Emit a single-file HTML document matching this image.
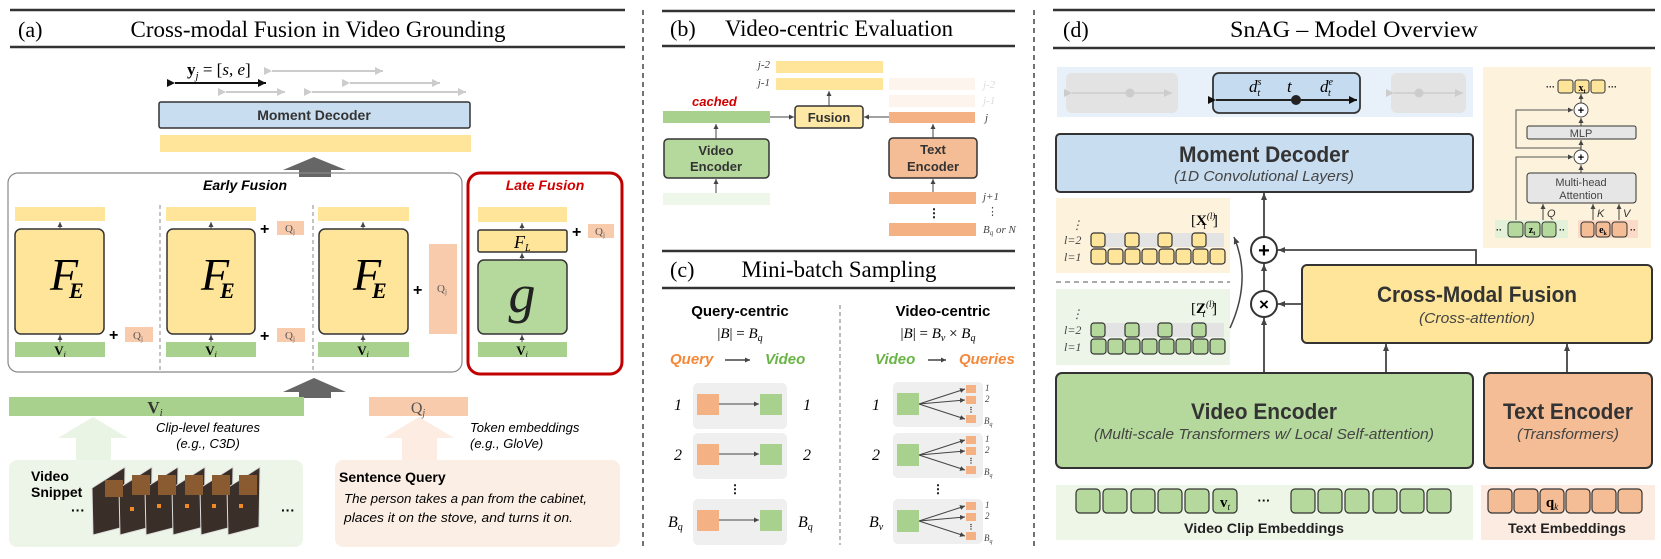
<!DOCTYPE html>
<html><head><meta charset="utf-8"><style>
html,body{margin:0;padding:0;background:#fff;}
svg{display:block;}
.s{font-family:"Liberation Sans",sans-serif;}
.r{font-family:"Liberation Serif",serif;}
</style></head><body>
<svg width="1661" height="559" viewBox="0 0 1661 559" xmlns="http://www.w3.org/2000/svg">
<defs>
<marker id="a" markerWidth="8" markerHeight="8" refX="7" refY="4" orient="auto" markerUnits="userSpaceOnUse"><path d="M0,1 L7,4 L0,7 z" fill="#444"/></marker>
<marker id="as" markerWidth="6" markerHeight="6" refX="5" refY="3" orient="auto" markerUnits="userSpaceOnUse"><path d="M0,0.5 L5,3 L0,5.5 z" fill="#444"/></marker>
<marker id="ab" markerWidth="10" markerHeight="10" refX="8" refY="5" orient="auto" markerUnits="userSpaceOnUse"><path d="M0,1 L8,5 L0,9 z" fill="#111"/></marker>
<marker id="ag" markerWidth="10" markerHeight="10" refX="8" refY="5" orient="auto" markerUnits="userSpaceOnUse"><path d="M0,1 L8,5 L0,9 z" fill="#ccc"/></marker>
</defs>

<!-- ============ (a) ============ -->
<line x1="10" y1="10" x2="625" y2="10" stroke="#333" stroke-width="2.5"/>
<line x1="10" y1="47" x2="625" y2="47" stroke="#333" stroke-width="2.5"/>
<text x="18" y="37" class="r" font-size="22">(a)</text>
<text x="318" y="37" class="r" font-size="23" text-anchor="middle" textLength="375" lengthAdjust="spacingAndGlyphs">Cross-modal Fusion in Video Grounding</text>

<text x="187" y="75" class="r" font-size="17"><tspan font-weight="bold">y</tspan><tspan font-size="11" font-style="italic" dy="4">j</tspan><tspan dy="-4"> = [</tspan><tspan font-style="italic">s</tspan>, <tspan font-style="italic">e</tspan>]</text>
<line x1="175" y1="83" x2="266" y2="83" stroke="#111" stroke-width="2" marker-end="url(#ab)" marker-start="url(#ab)"/>
<g stroke="#ccc" stroke-width="2">
<line x1="272" y1="71" x2="383" y2="71" marker-end="url(#ag)" marker-start="url(#ag)"/>
<line x1="350" y1="83" x2="440" y2="83" marker-end="url(#ag)" marker-start="url(#ag)"/>
<line x1="226" y1="92" x2="285" y2="92" marker-end="url(#ag)" marker-start="url(#ag)"/>
<line x1="312" y1="92" x2="466" y2="92" marker-end="url(#ag)" marker-start="url(#ag)"/>
</g>
<rect x="159" y="102" width="311" height="26" rx="2" fill="#c9ddf0" stroke="#333" stroke-width="1.5"/>
<text x="314" y="120" class="s" font-size="14" font-weight="bold" fill="#333" text-anchor="middle">Moment Decoder</text>
<rect x="160" y="135" width="311" height="17" fill="#fee599"/>
<path d="M283,170 L314,157 L346,170 L331,170 L331,177 L299,177 L299,170 z" fill="#666"/>

<!-- early fusion -->
<rect x="8" y="173" width="454" height="199" rx="10" fill="none" stroke="#888" stroke-width="1.2"/>
<text x="245" y="190" class="s" font-size="14" font-weight="bold" font-style="italic" text-anchor="middle">Early Fusion</text>
<line x1="160" y1="205" x2="160" y2="370" stroke="#888" stroke-dasharray="4,3"/>
<line x1="313" y1="205" x2="313" y2="370" stroke="#888" stroke-dasharray="4,3"/>
<g>
<rect x="15" y="207" width="90" height="14" fill="#fee599"/>
<rect x="15" y="229" width="89" height="105" rx="6" fill="#fee599" stroke="#333" stroke-width="1.5"/>
<rect x="15" y="342" width="90" height="15" fill="#a9d18e"/>
<text x="50" y="290" class="r" font-size="46" font-style="italic">F</text><text x="69" y="298" class="r" font-size="22" font-style="italic" font-weight="bold">E</text>
<text x="60" y="355" class="r" font-size="13" font-weight="bold" text-anchor="middle">V<tspan font-size="8" font-style="italic" font-weight="normal" dy="2">i</tspan></text>
<line x1="60" y1="342" x2="60" y2="335" stroke="#444" marker-end="url(#as)"/><line x1="60" y1="229" x2="60" y2="222" stroke="#444" marker-end="url(#as)"/>

<rect x="166" y="207" width="90" height="14" fill="#fee599"/>
<rect x="167" y="229" width="88" height="105" rx="6" fill="#fee599" stroke="#333" stroke-width="1.5"/>
<rect x="166" y="342" width="90" height="15" fill="#a9d18e"/>
<text x="201" y="290" class="r" font-size="46" font-style="italic">F</text><text x="220" y="298" class="r" font-size="22" font-style="italic" font-weight="bold">E</text>
<text x="211" y="355" class="r" font-size="13" font-weight="bold" text-anchor="middle">V<tspan font-size="8" font-style="italic" font-weight="normal" dy="2">i</tspan></text>
<line x1="211" y1="342" x2="211" y2="335" stroke="#444" marker-end="url(#as)"/><line x1="211" y1="229" x2="211" y2="222" stroke="#444" marker-end="url(#as)"/>

<rect x="318" y="207" width="91" height="14" fill="#fee599"/>
<rect x="319" y="229" width="89" height="105" rx="6" fill="#fee599" stroke="#333" stroke-width="1.5"/>
<rect x="318" y="342" width="91" height="15" fill="#a9d18e"/>
<text x="353" y="290" class="r" font-size="46" font-style="italic">F</text><text x="372" y="298" class="r" font-size="22" font-style="italic" font-weight="bold">E</text>
<text x="363" y="355" class="r" font-size="13" font-weight="bold" text-anchor="middle">V<tspan font-size="8" font-style="italic" font-weight="normal" dy="2">i</tspan></text>
<line x1="363" y1="342" x2="363" y2="335" stroke="#444" marker-end="url(#as)"/><line x1="363" y1="229" x2="363" y2="222" stroke="#444" marker-end="url(#as)"/>
</g>
<g class="s" font-size="16" font-weight="bold">
<text x="109" y="340">+</text><text x="260" y="234">+</text><text x="260" y="341">+</text><text x="413" y="295">+</text><text x="572" y="237">+</text>
</g>
<g fill="#f8cbad">
<rect x="125" y="327" width="28" height="15"/><rect x="277" y="221" width="27" height="14"/><rect x="277" y="328" width="28" height="14"/><rect x="429" y="244" width="28" height="90"/><rect x="588" y="224" width="26" height="14"/>
</g>
<g class="r" font-size="11" fill="#555">
<text x="133" y="339">Q<tspan font-size="7" dy="2">j</tspan></text><text x="285" y="232">Q<tspan font-size="7" dy="2">j</tspan></text><text x="285" y="339">Q<tspan font-size="7" dy="2">j</tspan></text><text x="437" y="292">Q<tspan font-size="7" dy="2">j</tspan></text><text x="595" y="235">Q<tspan font-size="7" dy="2">j</tspan></text>
</g>

<!-- late fusion -->
<rect x="468" y="173" width="154" height="201" rx="12" fill="none" stroke="#c00000" stroke-width="3"/>
<text x="545" y="190" class="s" font-size="14" font-weight="bold" font-style="italic" fill="#d00000" text-anchor="middle">Late Fusion</text>
<rect x="478" y="207" width="89" height="15" fill="#fee599"/>
<rect x="478" y="230" width="89" height="22" rx="2" fill="#fee599" stroke="#333" stroke-width="1.5"/>
<text x="514" y="248" class="r" font-size="18" font-style="italic">F<tspan font-size="10" dy="3">L</tspan></text>
<rect x="478" y="260" width="89" height="74" rx="6" fill="#b5d99c" stroke="#333" stroke-width="1.5"/>
<text x="522" y="312" class="r" font-size="54" font-style="italic" text-anchor="middle" fill="#222">g</text>
<rect x="478" y="342" width="89" height="15" fill="#a9d18e"/>
<text x="522" y="355" class="r" font-size="13" font-weight="bold" text-anchor="middle">V<tspan font-size="8" font-style="italic" font-weight="normal" dy="2">i</tspan></text>
<line x1="522" y1="342" x2="522" y2="335" stroke="#444" marker-end="url(#as)"/><line x1="522" y1="260" x2="522" y2="253" stroke="#444" marker-end="url(#as)"/><line x1="522" y1="230" x2="522" y2="223" stroke="#444" marker-end="url(#as)"/>

<path d="M283,392 L314,378 L346,392 L331,392 L331,398 L299,398 L299,392 z" fill="#666"/>
<rect x="9" y="397" width="295" height="19" fill="#a9d18e"/>
<text x="155" y="413" class="r" font-size="17" font-weight="bold" text-anchor="middle" fill="#333">V<tspan font-size="11" font-style="italic" font-weight="normal" dy="3">i</tspan></text>
<rect x="369" y="397" width="99" height="19" fill="#f8cbad"/>
<text x="418" y="413" class="r" font-size="16" text-anchor="middle" fill="#555">Q<tspan font-size="10" font-style="italic" dy="3">j</tspan></text>
<path d="M58,438 L93,417 L128,438 L111,438 L111,462 L76,462 L76,438 z" fill="#eaf4e4"/>
<path d="M384,438 L419,417 L454,438 L437,438 L437,462 L402,462 L402,438 z" fill="#fcece2"/>
<text x="208" y="432" class="s" font-size="13" font-style="italic" text-anchor="middle">Clip-level features</text>
<text x="208" y="448" class="s" font-size="13" font-style="italic" text-anchor="middle">(e.g., C3D)</text>
<text x="470" y="432" class="s" font-size="13" font-style="italic">Token embeddings</text>
<text x="470" y="448" class="s" font-size="13" font-style="italic">(e.g., GloVe)</text>

<rect x="9" y="460" width="294" height="87" rx="8" fill="#edf5e8"/>
<text x="31" y="481" class="s" font-size="14" font-weight="bold">Video</text>
<text x="31" y="497" class="s" font-size="14" font-weight="bold">Snippet</text>
<text x="71" y="515" class="s" font-size="14" font-weight="bold">···</text>
<text x="281" y="515" class="s" font-size="14" font-weight="bold">···</text>
<g stroke="#ddd" stroke-width="1">
<polygon points="92,488 125,467 124,527 93,535" fill="#3a2f28"/>
<polygon points="119,488 152,467 151,527 120,535" fill="#3b3029"/>
<polygon points="145,488 178,467 177,527 146,535" fill="#3a2f28"/>
<polygon points="172,488 205,467 204,527 173,535" fill="#3b3029"/>
<polygon points="200,488 233,467 232,527 201,535" fill="#3a2f28"/>
<polygon points="227,488 260,467 259,527 228,535" fill="#3b3029"/>
</g>
<g fill="#8a5a30"><rect x="132" y="475" width="18" height="20"/><rect x="158" y="475" width="18" height="20"/><rect x="185" y="475" width="18" height="20"/><rect x="212" y="475" width="18" height="20"/><rect x="239" y="475" width="18" height="20"/><rect x="105" y="480" width="18" height="17"/></g>
<g fill="#f08a24"><rect x="130" y="507" width="4" height="4"/><rect x="157" y="504" width="4" height="4"/><rect x="185" y="504" width="4" height="4"/><rect x="212" y="504" width="4" height="4"/><rect x="239" y="504" width="4" height="4"/></g>

<rect x="335" y="460" width="285" height="87" rx="8" fill="#fbeee5"/>
<text x="339" y="482" class="s" font-size="14" font-weight="bold">Sentence Query</text>
<text x="344" y="503" class="s" font-size="12.5" font-style="italic" textLength="243" lengthAdjust="spacingAndGlyphs">The person takes a pan from the cabinet,</text>
<text x="344" y="522" class="s" font-size="12.5" font-style="italic" textLength="229" lengthAdjust="spacingAndGlyphs">places it on the stove, and turns it on.</text>

<line x1="643" y1="10" x2="643" y2="548" stroke="#444" stroke-width="1.5" stroke-dasharray="5,4"/>

<!-- ============ (b) ============ -->
<line x1="662" y1="11" x2="1015" y2="11" stroke="#333" stroke-width="2.5"/>
<line x1="662" y1="46" x2="1015" y2="46" stroke="#333" stroke-width="2.5"/>
<text x="670" y="36" class="r" font-size="22">(b)</text>
<text x="839" y="36" class="r" font-size="23" text-anchor="middle" textLength="228" lengthAdjust="spacingAndGlyphs">Video-centric Evaluation</text>
<text x="770" y="68" class="r" font-size="11" font-style="italic" text-anchor="end" fill="#444">j-2</text>
<text x="770" y="86" class="r" font-size="11" font-style="italic" text-anchor="end" fill="#444">j-1</text>
<rect x="776" y="61" width="107" height="12" fill="#fee599"/>
<rect x="776" y="78" width="107" height="12" fill="#fee599"/>
<rect x="889" y="78" width="86" height="12" fill="#fdf4ee"/>
<rect x="889" y="95" width="86" height="12" fill="#fdf4ee"/>
<rect x="889" y="112" width="86" height="11" fill="#f4b183"/>
<text x="983" y="88" class="r" font-size="11" font-style="italic" fill="#ddd">j-2</text>
<text x="983" y="104" class="r" font-size="11" font-style="italic" fill="#ddd">j-1</text>
<text x="985" y="121" class="r" font-size="11" font-style="italic" fill="#444">j</text>
<text x="692" y="106" class="s" font-size="13" font-weight="bold" font-style="italic" fill="#d00000">cached</text>
<rect x="663" y="111" width="107" height="12" fill="#a9d18e"/>
<line x1="770" y1="117" x2="794" y2="117" stroke="#444" marker-end="url(#as)"/>
<line x1="889" y1="117" x2="864" y2="117" stroke="#444" marker-end="url(#as)"/>
<rect x="795" y="106" width="68" height="22" rx="3" fill="#fee8a6" stroke="#333" stroke-width="1.5"/>
<text x="829" y="122" class="s" font-size="13" font-weight="bold" fill="#333" text-anchor="middle">Fusion</text>
<line x1="829" y1="106" x2="829" y2="91" stroke="#444" marker-end="url(#as)"/>
<rect x="664" y="139" width="105" height="39" rx="4" fill="#b5d99c" stroke="#333" stroke-width="1.5"/>
<text x="716" y="155" class="s" font-size="13" font-weight="bold" fill="#333" text-anchor="middle">Video</text>
<text x="716" y="171" class="s" font-size="13" font-weight="bold" fill="#333" text-anchor="middle">Encoder</text>
<line x1="716" y1="139" x2="716" y2="124" stroke="#444" marker-end="url(#as)"/>
<rect x="663" y="193" width="107" height="12" fill="#eff6ea"/>
<line x1="716" y1="193" x2="716" y2="179" stroke="#444" marker-end="url(#as)"/>
<rect x="889" y="138" width="88" height="40" rx="4" fill="#f4bd96" stroke="#333" stroke-width="1.5"/>
<text x="933" y="154" class="s" font-size="13" font-weight="bold" fill="#333" text-anchor="middle">Text</text>
<text x="933" y="171" class="s" font-size="13" font-weight="bold" fill="#333" text-anchor="middle">Encoder</text>
<line x1="933" y1="138" x2="933" y2="124" stroke="#444" marker-end="url(#as)"/>
<line x1="933" y1="192" x2="933" y2="179" stroke="#444" marker-end="url(#as)"/>
<rect x="889" y="192" width="87" height="12" fill="#f4b183"/>
<rect x="889" y="223" width="87" height="13" fill="#f4b183"/>
<text x="934" y="217" class="s" font-size="12" font-weight="bold" text-anchor="middle">⋮</text>
<text x="983" y="200" class="r" font-size="11" font-style="italic" fill="#444">j+1</text>
<text x="987" y="215" class="r" font-size="11" fill="#444">⋮</text>
<text x="983" y="233" class="r" font-size="11" font-style="italic" fill="#444">B<tspan font-size="7" dy="2">q</tspan><tspan dy="-2"> or N</tspan></text>

<!-- ============ (c) ============ -->
<line x1="662" y1="251" x2="1015" y2="251" stroke="#333" stroke-width="2.5"/>
<line x1="662" y1="288" x2="1015" y2="288" stroke="#333" stroke-width="2.5"/>
<text x="670" y="277" class="r" font-size="22">(c)</text>
<text x="839" y="277" class="r" font-size="23" text-anchor="middle" textLength="195" lengthAdjust="spacingAndGlyphs">Mini-batch Sampling</text>
<text x="740" y="316" class="s" font-size="15" font-weight="bold" text-anchor="middle">Query-centric</text>
<text x="740" y="338" class="r" font-size="15" text-anchor="middle">|<tspan font-style="italic">B</tspan>| = <tspan font-style="italic">B</tspan><tspan font-size="10" font-style="italic" dy="3">q</tspan></text>
<text x="670" y="364" class="s" font-size="15" font-weight="bold" font-style="italic" fill="#f4883a">Query</text>
<line x1="725" y1="360" x2="750" y2="360" stroke="#444" stroke-width="1.5" marker-end="url(#as)"/>
<text x="765" y="364" class="s" font-size="15" font-weight="bold" font-style="italic" fill="#6ab446">Video</text>
<line x1="840" y1="305" x2="840" y2="545" stroke="#777" stroke-dasharray="4,3"/>
<g>
<rect x="693" y="383" width="94" height="46" rx="5" fill="#efefef"/><rect x="697" y="394" width="22" height="21" fill="#f4b183"/><rect x="760" y="394" width="22" height="21" fill="#a9d18e"/><line x1="719" y1="404" x2="759" y2="404" stroke="#444" marker-end="url(#as)"/>
<rect x="693" y="433" width="94" height="46" rx="5" fill="#efefef"/><rect x="697" y="444" width="22" height="21" fill="#f4b183"/><rect x="760" y="444" width="22" height="21" fill="#a9d18e"/><line x1="719" y1="454" x2="759" y2="454" stroke="#444" marker-end="url(#as)"/>
<rect x="693" y="499" width="94" height="46" rx="5" fill="#efefef"/><rect x="697" y="510" width="22" height="21" fill="#f4b183"/><rect x="760" y="510" width="22" height="21" fill="#a9d18e"/><line x1="719" y1="520" x2="759" y2="520" stroke="#444" marker-end="url(#as)"/>
</g>
<g class="r" font-size="16" font-style="italic">
<text x="674" y="410">1</text><text x="803" y="410">1</text><text x="674" y="460">2</text><text x="803" y="460">2</text>
<text x="668" y="527">B<tspan font-size="10" dy="3">q</tspan></text><text x="798" y="527">B<tspan font-size="10" dy="3">q</tspan></text>
<text x="872" y="410">1</text><text x="872" y="460">2</text><text x="869" y="527">B<tspan font-size="10" dy="3">v</tspan></text>
</g>
<text x="735" y="493" class="s" font-size="12" font-weight="bold" text-anchor="middle">⋮</text>
<text x="938" y="493" class="s" font-size="12" font-weight="bold" text-anchor="middle">⋮</text>
<text x="943" y="316" class="s" font-size="15" font-weight="bold" text-anchor="middle">Video-centric</text>
<text x="938" y="338" class="r" font-size="15" text-anchor="middle">|<tspan font-style="italic">B</tspan>| = <tspan font-style="italic">B</tspan><tspan font-size="10" font-style="italic" dy="3">v</tspan><tspan dy="-3"> × </tspan><tspan font-style="italic">B</tspan><tspan font-size="10" font-style="italic" dy="3">q</tspan></text>
<text x="875" y="364" class="s" font-size="15" font-weight="bold" font-style="italic" fill="#6ab446">Video</text>
<line x1="928" y1="360" x2="946" y2="360" stroke="#444" stroke-width="1.5" marker-end="url(#as)"/>
<text x="959" y="364" class="s" font-size="15" font-weight="bold" font-style="italic" fill="#f4883a">Queries</text>
<g id="vr">
<rect x="893" y="382" width="90" height="45" rx="5" fill="#efefef"/>
<rect x="897" y="393" width="22" height="22" fill="#a9d18e"/>
<rect x="966" y="385" width="10" height="8" fill="#f4b183"/><rect x="966" y="396" width="10" height="8" fill="#f4b183"/><rect x="966" y="415" width="10" height="8" fill="#f4b183"/>
<g stroke="#444" stroke-width="1"><line x1="919" y1="404" x2="965" y2="389" marker-end="url(#as)"/><line x1="919" y1="404" x2="965" y2="400" marker-end="url(#as)"/><line x1="919" y1="404" x2="965" y2="419" marker-end="url(#as)"/></g>
<text x="971" y="412" class="s" font-size="7" font-weight="bold" text-anchor="middle">⋮</text>
<g class="r" font-size="9" font-style="italic" fill="#444"><text x="985" y="391">1</text><text x="985" y="402">2</text><text x="984" y="424">B<tspan font-size="6" dy="2">q</tspan></text></g>
</g>
<use href="#vr" y="51"/>
<use href="#vr" y="117"/>

<line x1="1034" y1="10" x2="1034" y2="548" stroke="#444" stroke-width="1.5" stroke-dasharray="5,4"/>

<!-- ============ (d) ============ -->
<line x1="1053" y1="10" x2="1655" y2="10" stroke="#333" stroke-width="2.5"/>
<line x1="1053" y1="48" x2="1655" y2="48" stroke="#333" stroke-width="2.5"/>
<text x="1063" y="37" class="r" font-size="22">(d)</text>
<text x="1354" y="37" class="r" font-size="23" text-anchor="middle" textLength="248" lengthAdjust="spacingAndGlyphs">SnAG  –  Model Overview</text>

<rect x="1057" y="67" width="416" height="50" fill="#e8f0f9"/>
<rect x="1066" y="73" width="112" height="40" rx="6" fill="#e3e3e3"/>
<line x1="1072" y1="93" x2="1172" y2="93" stroke="#ccc" stroke-width="1.5" marker-end="url(#ag)" marker-start="url(#ag)"/><circle cx="1130" cy="93" r="4.5" fill="#ccc"/>
<rect x="1391" y="73" width="75" height="40" rx="6" fill="#e3e3e3"/>
<line x1="1394" y1="93" x2="1463" y2="93" stroke="#ccc" stroke-width="1.5" marker-end="url(#ag)" marker-start="url(#ag)"/><circle cx="1419" cy="93" r="4.5" fill="#ccc"/>
<rect x="1213" y="73" width="147" height="40" rx="6" fill="#c5dbef" stroke="#333" stroke-width="1.8"/>
<line x1="1216" y1="100" x2="1357" y2="100" stroke="#222" stroke-width="2" marker-end="url(#ab)" marker-start="url(#ab)"/>
<circle cx="1296" cy="100" r="5" fill="#222"/>
<g class="r" font-size="17" font-style="italic">
<text x="1249" y="92">d<tspan font-size="10" dy="-7">s</tspan><tspan font-size="10" dx="-4" dy="11">t</tspan></text>
<text x="1287" y="92">t</text>
<text x="1320" y="92">d<tspan font-size="10" dy="-7">e</tspan><tspan font-size="10" dx="-5" dy="11">t</tspan></text>
</g>

<rect x="1056" y="134" width="417" height="58" rx="4" fill="#c9ddf0" stroke="#333" stroke-width="2"/>
<text x="1264" y="162" class="s" font-size="22" font-weight="bold" fill="#333" text-anchor="middle" textLength="170" lengthAdjust="spacingAndGlyphs">Moment Decoder</text>
<text x="1264" y="181" class="s" font-size="15" font-style="italic" fill="#444" text-anchor="middle" textLength="180" lengthAdjust="spacingAndGlyphs">(1D Convolutional Layers)</text>

<!-- transformer panel -->
<rect x="1483" y="67" width="168" height="181" fill="#fdf3dc"/>
<g class="s" font-size="9" font-weight="bold"><text x="1546" y="90">···</text><text x="1608" y="90">···</text></g>
<rect x="1558" y="80" width="15" height="13" rx="2.5" fill="#fee599" stroke="#333"/>
<rect x="1575" y="80" width="14" height="13" rx="2.5" fill="#fee599" stroke="#333"/>
<rect x="1591" y="80" width="14" height="13" rx="2.5" fill="#fee599" stroke="#333"/>
<text x="1582" y="91" class="r" font-size="10" font-weight="bold" text-anchor="middle">x<tspan font-size="6" dy="2">t</tspan></text>
<line x1="1581" y1="103" x2="1581" y2="94" stroke="#444" marker-end="url(#as)"/>
<circle cx="1581" cy="110" r="7" fill="#fff" stroke="#444"/><text x="1581" y="114" class="s" font-size="11" font-weight="bold" text-anchor="middle">+</text>
<line x1="1581" y1="126" x2="1581" y2="118" stroke="#444" marker-end="url(#as)"/>
<rect x="1527" y="126" width="109" height="13" rx="2" fill="#e6e6e6" stroke="#333"/>
<text x="1581" y="137" class="s" font-size="11" fill="#444" text-anchor="middle">MLP</text>
<line x1="1581" y1="150" x2="1581" y2="140" stroke="#444" marker-end="url(#as)"/>
<circle cx="1581" cy="157" r="7" fill="#fff" stroke="#444"/><text x="1581" y="161" class="s" font-size="11" font-weight="bold" text-anchor="middle">+</text>
<line x1="1581" y1="173" x2="1581" y2="165" stroke="#444" marker-end="url(#as)"/>
<rect x="1527" y="173" width="109" height="30" rx="3" fill="#e6e6e6" stroke="#333"/>
<text x="1581" y="186" class="s" font-size="11" fill="#444" text-anchor="middle">Multi-head</text>
<text x="1581" y="199" class="s" font-size="11" fill="#444" text-anchor="middle">Attention</text>
<polyline points="1581,148 1516,148 1516,110 1573,110" fill="none" stroke="#555" marker-end="url(#as)"/>
<polyline points="1516,222 1516,157 1573,157" fill="none" stroke="#555" marker-end="url(#as)"/>
<line x1="1543" y1="221" x2="1543" y2="204" stroke="#444" marker-end="url(#as)"/>
<line x1="1593" y1="221" x2="1593" y2="204" stroke="#444" marker-end="url(#as)"/>
<line x1="1619" y1="221" x2="1619" y2="204" stroke="#444" marker-end="url(#as)"/>
<g class="s" font-size="11" font-style="italic" fill="#333"><text x="1547" y="217">Q</text><text x="1597" y="217">K</text><text x="1623" y="217">V</text></g>
<rect x="1495" y="220" width="73" height="18" fill="#e3f1d9"/>
<rect x="1578" y="220" width="60" height="18" fill="#fbdac8"/>
<g fill="#b5d99c" stroke="#333"><rect x="1508" y="222" width="15" height="15" rx="3"/><rect x="1525" y="222" width="15" height="15" rx="3"/><rect x="1542" y="222" width="14" height="15" rx="3"/></g>
<g fill="#f4bd96" stroke="#333"><rect x="1581" y="222" width="13" height="15" rx="3"/><rect x="1596" y="222" width="14" height="15" rx="3"/><rect x="1612" y="222" width="15" height="15" rx="3"/></g>
<text x="1532" y="233" class="r" font-size="10" font-weight="bold" text-anchor="middle">z<tspan font-size="6" dy="2">t</tspan></text>
<text x="1603" y="233" class="r" font-size="10" font-weight="bold" text-anchor="middle">e<tspan font-size="6" dy="2">k</tspan></text>
<g class="s" font-size="9" font-weight="bold"><text x="1496" y="233">··</text><text x="1559" y="233">··</text><text x="1630" y="233">··</text></g>

<!-- X / Z panels -->
<rect x="1056" y="198" width="174" height="75" fill="#fdf3dd"/>
<line x1="1056" y1="282" x2="1230" y2="282" stroke="#777" stroke-width="1.2" stroke-dasharray="5,4"/>
<rect x="1056" y="289" width="174" height="76" fill="#edf5e8"/>
<text x="1191" y="225" class="r" font-size="15">[<tspan font-weight="bold">X</tspan><tspan font-size="9" font-style="italic" dy="-6">(l)</tspan><tspan font-size="9" font-style="italic" dx="-12" dy="10">t</tspan><tspan dx="7" dy="-4">]</tspan></text>
<text x="1191" y="313" class="r" font-size="15">[<tspan font-weight="bold">Z</tspan><tspan font-size="9" font-style="italic" dy="-6">(l)</tspan><tspan font-size="9" font-style="italic" dx="-12" dy="10">t</tspan><tspan dx="7" dy="-4">]</tspan></text>
<g class="r" font-size="12" font-style="italic" fill="#444">
<text x="1071" y="229">⋮</text><text x="1064" y="244">l=2</text><text x="1064" y="261">l=1</text>
<text x="1071" y="318">⋮</text><text x="1064" y="334">l=2</text><text x="1064" y="351">l=1</text>
</g>
<rect x="1091" y="233" width="133" height="14" fill="#e3e3e3"/>
<rect x="1091" y="323" width="133" height="14" fill="#e3e3e3"/>
<g fill="#fee599" stroke="#333" stroke-width="1.2">
<rect x="1091" y="233" width="14" height="14" rx="3"/><rect x="1125" y="233" width="14" height="14" rx="3"/><rect x="1158" y="233" width="14" height="14" rx="3"/><rect x="1192" y="233" width="14" height="14" rx="3"/>
<rect x="1091" y="249" width="15" height="15" rx="3"/><rect x="1108" y="249" width="15" height="15" rx="3"/><rect x="1125" y="249" width="15" height="15" rx="3"/><rect x="1142" y="249" width="15" height="15" rx="3"/><rect x="1159" y="249" width="15" height="15" rx="3"/><rect x="1176" y="249" width="15" height="15" rx="3"/><rect x="1193" y="249" width="15" height="15" rx="3"/><rect x="1210" y="249" width="15" height="15" rx="3"/>
</g>
<g fill="#b5d99c" stroke="#333" stroke-width="1.2">
<rect x="1091" y="323" width="14" height="14" rx="3"/><rect x="1125" y="323" width="14" height="14" rx="3"/><rect x="1158" y="323" width="14" height="14" rx="3"/><rect x="1192" y="323" width="14" height="14" rx="3"/>
<rect x="1091" y="339" width="15" height="15" rx="3"/><rect x="1108" y="339" width="15" height="15" rx="3"/><rect x="1125" y="339" width="15" height="15" rx="3"/><rect x="1142" y="339" width="15" height="15" rx="3"/><rect x="1159" y="339" width="15" height="15" rx="3"/><rect x="1176" y="339" width="15" height="15" rx="3"/><rect x="1193" y="339" width="15" height="15" rx="3"/><rect x="1210" y="339" width="15" height="15" rx="3"/>
</g>
<path d="M1230,328 Q1252,280 1234,237" fill="none" stroke="#444" stroke-width="1.5" marker-end="url(#a)"/>

<!-- central flow -->
<line x1="1264" y1="373" x2="1264" y2="318" stroke="#444" stroke-width="1.8" marker-end="url(#a)"/>
<line x1="1264" y1="291" x2="1264" y2="264" stroke="#444" stroke-width="1.8" marker-end="url(#a)"/>
<line x1="1264" y1="237" x2="1264" y2="193" stroke="#444" stroke-width="1.8" marker-end="url(#a)"/>
<circle cx="1264" cy="250" r="13" fill="#fff" stroke="#333" stroke-width="2"/>
<text x="1264" y="257" class="s" font-size="20" font-weight="bold" text-anchor="middle">+</text>
<circle cx="1264" cy="304" r="13" fill="#fff" stroke="#333" stroke-width="2"/>
<text x="1264" y="310" class="s" font-size="17" font-weight="bold" text-anchor="middle">×</text>
<polyline points="1476,265 1476,250 1278,250" fill="none" stroke="#444" stroke-width="1.8" marker-end="url(#a)"/>
<line x1="1302" y1="304" x2="1278" y2="304" stroke="#444" stroke-width="1.8" marker-end="url(#a)"/>

<rect x="1302" y="265" width="350" height="78" rx="5" fill="#fee599" stroke="#333" stroke-width="2"/>
<text x="1477" y="302" class="s" font-size="22" font-weight="bold" fill="#333" text-anchor="middle" textLength="200" lengthAdjust="spacingAndGlyphs">Cross-Modal Fusion</text>
<text x="1477" y="323" class="s" font-size="15" font-style="italic" fill="#444" text-anchor="middle" textLength="116" lengthAdjust="spacingAndGlyphs">(Cross-attention)</text>

<line x1="1386" y1="373" x2="1386" y2="344" stroke="#444" stroke-width="1.8" marker-end="url(#a)"/>
<line x1="1567" y1="373" x2="1567" y2="344" stroke="#444" stroke-width="1.8" marker-end="url(#a)"/>

<rect x="1056" y="373" width="417" height="95" rx="6" fill="#b5d99c" stroke="#333" stroke-width="2"/>
<text x="1264" y="419" class="s" font-size="22" font-weight="bold" fill="#333" text-anchor="middle" textLength="146" lengthAdjust="spacingAndGlyphs">Video Encoder</text>
<text x="1264" y="439" class="s" font-size="15" font-style="italic" fill="#444" text-anchor="middle" textLength="340" lengthAdjust="spacingAndGlyphs">(Multi-scale Transformers w/ Local Self-attention)</text>
<rect x="1484" y="373" width="168" height="95" rx="6" fill="#f4bd96" stroke="#333" stroke-width="2"/>
<text x="1568" y="419" class="s" font-size="22" font-weight="bold" fill="#333" text-anchor="middle" textLength="130" lengthAdjust="spacingAndGlyphs">Text Encoder</text>
<text x="1568" y="439" class="s" font-size="15" font-style="italic" fill="#444" text-anchor="middle" textLength="102" lengthAdjust="spacingAndGlyphs">(Transformers)</text>

<rect x="1056" y="485" width="417" height="55" fill="#eef6e8"/>
<g fill="#b5d99c" stroke="#333" stroke-width="1.2">
<rect x="1076" y="489" width="24" height="24" rx="4"/><rect x="1103" y="489" width="24" height="24" rx="4"/><rect x="1131" y="489" width="24" height="24" rx="4"/><rect x="1158" y="489" width="24" height="24" rx="4"/><rect x="1185" y="489" width="24" height="24" rx="4"/><rect x="1213" y="489" width="24" height="24" rx="4"/>
<rect x="1291" y="489" width="24" height="24" rx="4"/><rect x="1318" y="489" width="24" height="24" rx="4"/><rect x="1345" y="489" width="24" height="24" rx="4"/><rect x="1373" y="489" width="24" height="24" rx="4"/><rect x="1400" y="489" width="24" height="24" rx="4"/><rect x="1427" y="489" width="24" height="24" rx="4"/>
</g>
<text x="1225" y="507" class="r" font-size="15" font-weight="bold" text-anchor="middle">v<tspan font-size="9" font-style="italic" font-weight="normal" dy="3">t</tspan></text>
<text x="1264" y="505" class="s" font-size="13" font-weight="bold" text-anchor="middle">···</text>
<text x="1264" y="533" class="s" font-size="14" font-weight="bold" fill="#222" text-anchor="middle" textLength="160" lengthAdjust="spacingAndGlyphs">Video Clip Embeddings</text>
<rect x="1481" y="485" width="174" height="55" fill="#fcebe0"/>
<g fill="#f4bd96" stroke="#333" stroke-width="1.2">
<rect x="1488" y="489" width="24" height="24" rx="4"/><rect x="1514" y="489" width="24" height="24" rx="4"/><rect x="1540" y="489" width="24" height="24" rx="4"/><rect x="1566" y="489" width="24" height="24" rx="4"/><rect x="1592" y="489" width="24" height="24" rx="4"/><rect x="1618" y="489" width="24" height="24" rx="4"/>
</g>
<text x="1552" y="507" class="r" font-size="15" font-weight="bold" text-anchor="middle">q<tspan font-size="9" font-style="italic" font-weight="normal" dy="3">k</tspan></text>
<text x="1567" y="533" class="s" font-size="14" font-weight="bold" fill="#222" text-anchor="middle" textLength="118" lengthAdjust="spacingAndGlyphs">Text Embeddings</text>
</svg>
</body></html>
